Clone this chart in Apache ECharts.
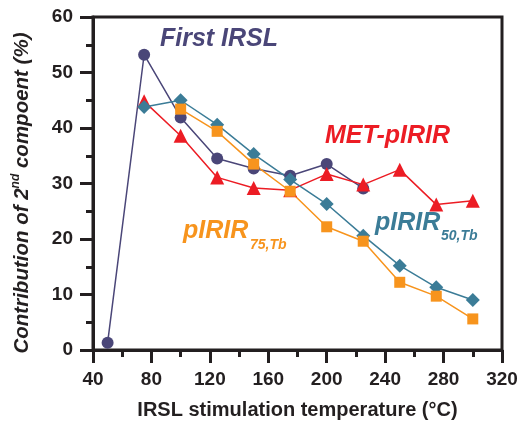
<!DOCTYPE html>
<html>
<head>
<meta charset="utf-8">
<script src="https://cdn.jsdelivr.net/npm/echarts@6/dist/echarts.min.js"></script>
<style>
html,body{margin:0;padding:0;background:#fff;}
#chart{width:523px;height:425px;}
</style>
</head>
<body>
<div id="chart"></div>
<script>
// Data
var temps = [50, 75, 100, 125, 150, 175, 200, 225, 250, 275, 300];
var firstIRSL = [1.3, 53.2, 41.9, 34.5, 32.7, 31.4, 33.5, 29.1, null, null, null];
var metPIRIR = [null, 44.8, 38.6, 31.1, 29.2, 28.8, 31.7, 29.8, 32.5, 26.2, 26.9];
var pIRIR50 = [null, 43.8, 45.0, 40.6, 35.3, 30.7, 26.3, 20.6, 15.2, 11.3, 9.0];
var pIRIR75 = [null, null, 43.4, 39.4, 33.5, 28.6, 22.2, 19.6, 12.2, 9.7, 5.6];
var xTicks = [40, 80, 120, 160, 200, 240, 280, 320];
var yTicks = [0, 10, 20, 30, 40, 50, 60];

function pairs(vals) {
  var out = [];
  for (var i = 0; i < temps.length; i++) {
    if (vals[i] !== null) out.push([temps[i], vals[i]]);
  }
  return out;
}

var FONT = '"Liberation Sans", Arial, sans-serif';
var AX = '#231f20';
var C_PURPLE = '#4a4678';
var C_RED = '#ec1c24';
var C_TEAL = '#3b7c97';
var C_ORANGE = '#f7941d';

var chart = echarts.init(document.getElementById('chart'), null, {renderer: 'canvas'});

function axisCommon(ticks) {
  return {
    min: ticks[0],
    max: ticks[ticks.length - 1],
    interval: ticks[1] - ticks[0],
    axisLine: {show: true, onZero: false, lineStyle: {color: AX, width: 3}},
    axisTick: {show: true, inside: false, length: 13, lineStyle: {color: AX, width: 3}},
    minorTick: {show: true, splitNumber: 2, length: 7, lineStyle: {color: AX, width: 3}},
    splitLine: {show: false},
    axisLabel: {color: AX, fontFamily: FONT, fontWeight: 'bold', fontSize: 19, margin: 20}
  };
}

var xAxis = axisCommon(xTicks);
xAxis.type = 'value';
xAxis.name = 'IRSL stimulation temperature (°C)';
xAxis.nameLocation = 'middle';
xAxis.nameGap = 50;
xAxis.nameTextStyle = {color: AX, fontFamily: FONT, fontWeight: 'bold', fontSize: 20};

var yAxis = axisCommon(yTicks);
yAxis.type = 'value';

function series(name, vals, color, symbol, size) {
  return {
    name: name,
    type: 'line',
    data: pairs(vals),
    symbol: symbol,
    symbolSize: size,
    showSymbol: true,
    lineStyle: {color: color, width: 1.5},
    itemStyle: {color: color, borderWidth: 0},
    emphasis: {disabled: true},
    animation: false
  };
}

var bold = {fontFamily: FONT, fontWeight: 'bold', fontStyle: 'italic'};
function txt(x, y, s, size, color) {
  return {type: 'text', x: x, y: y, z: 100,
    style: Object.assign({text: s, fontSize: size, fill: color, verticalAlign: 'middle', align: 'left'}, bold)};
}

chart.setOption({
  backgroundColor: '#ffffff',
  animation: false,
  grid: {left: 93, right: 21, top: 17, bottom: 75, show: true, borderColor: AX, borderWidth: 3, backgroundColor: 'transparent'},
  xAxis: xAxis,
  yAxis: yAxis,
  series: [
    series('First IRSL', firstIRSL, C_PURPLE, 'circle', 12),
    series('MET-pIRIR', metPIRIR, C_RED, 'triangle', 14),
    series('pIRIR50,Tb', pIRIR50, C_TEAL, 'diamond', 14),
    series('pIRIR75,Tb', pIRIR75, C_ORANGE, 'rect', 11)
  ],
  graphic: [
    {type: 'text', x: 22, y: 193, rotation: Math.PI / 2, z: 100,
     style: {
       text: '{a|Contribution of 2}{s|nd}{a| compoent (%)}',
       align: 'center', verticalAlign: 'middle',
       rich: {
         a: {fill: AX, fontFamily: FONT, fontWeight: 'bold', fontStyle: 'italic', fontSize: 20.5, lineHeight: 24, verticalAlign: 'middle'},
         s: {fill: AX, fontFamily: FONT, fontWeight: 'bold', fontStyle: 'italic', fontSize: 12, lineHeight: 12, verticalAlign: 'top'}
       }
     }},
    txt(160, 39.5, 'First IRSL', 25, C_PURPLE),
    txt(325, 136, 'MET-pIRIR', 25, C_RED),
    txt(375, 223, 'pIRIR', 25, C_TEAL),
    txt(441, 236, '50,Tb', 14, C_TEAL),
    txt(183, 231, 'pIRIR', 25, C_ORANGE),
    txt(250, 245, '75,Tb', 14, C_ORANGE)
  ]
});
</script>
</body>
</html>
